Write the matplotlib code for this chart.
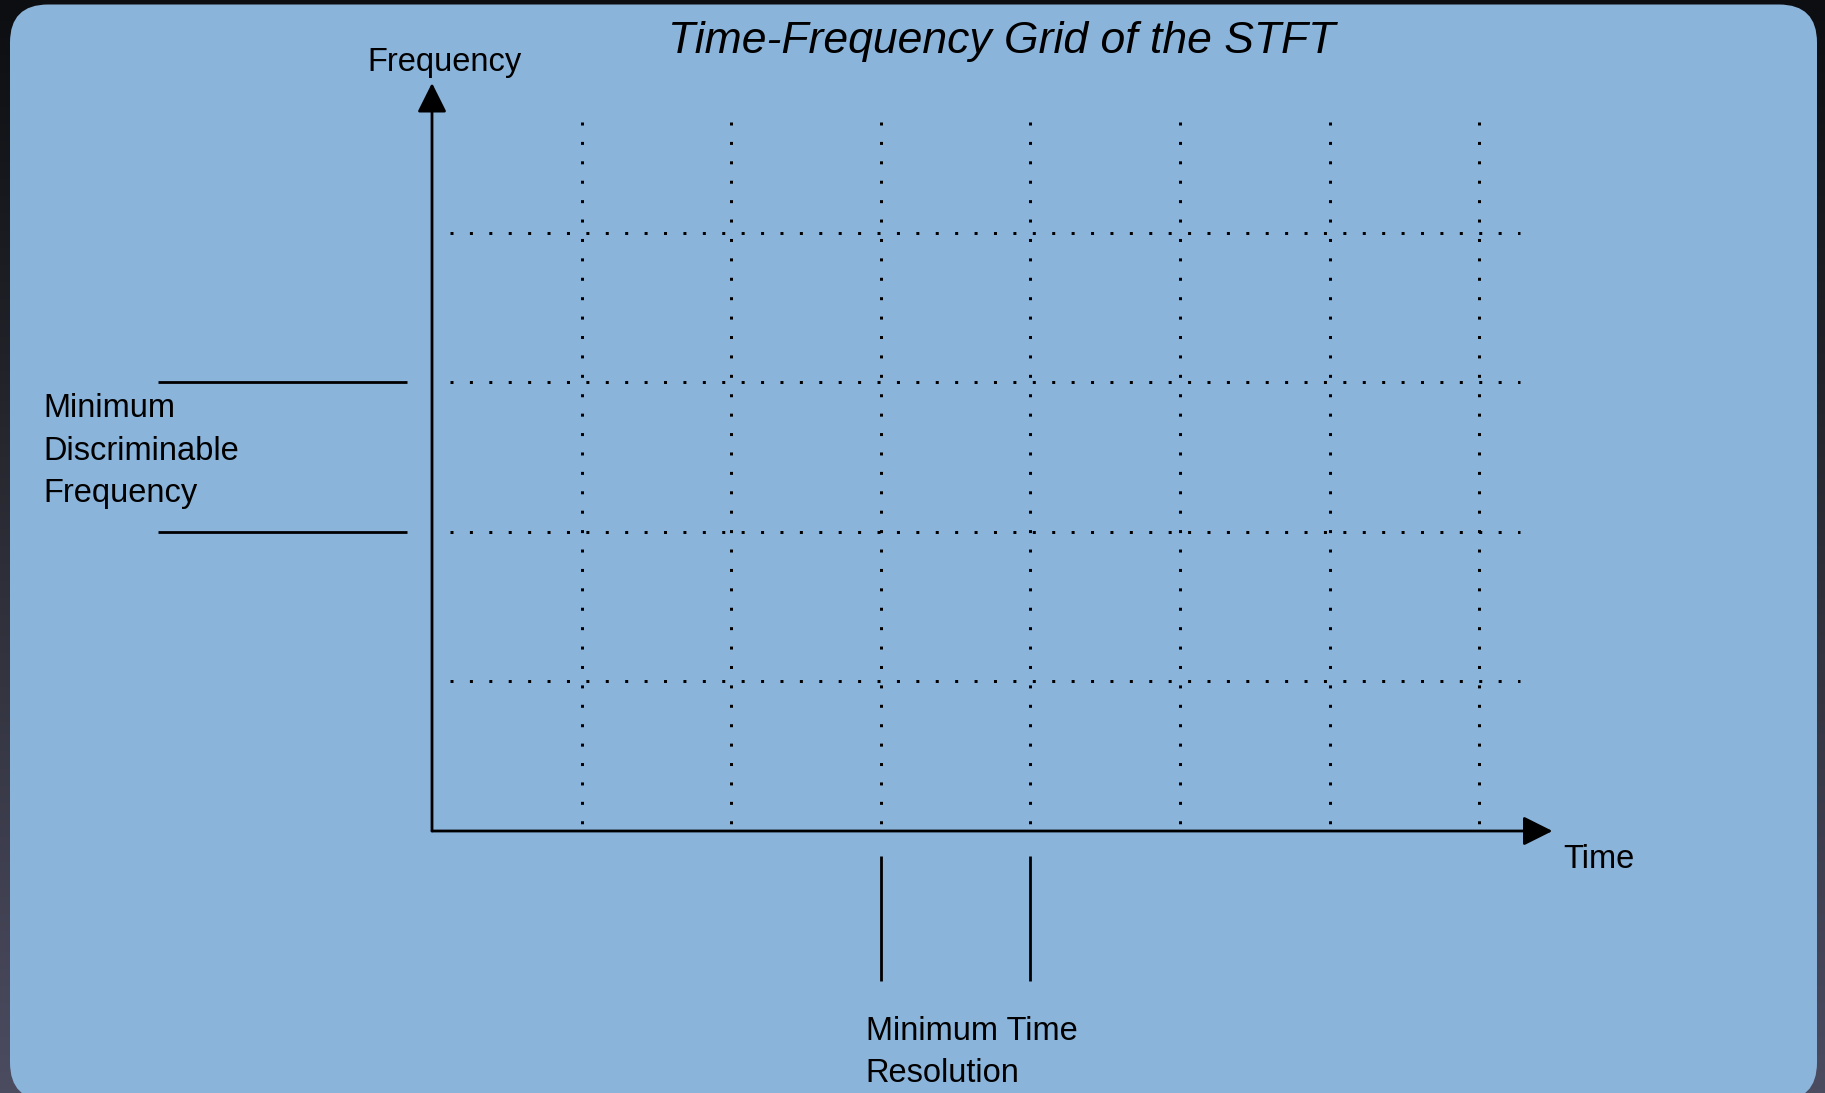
import numpy as np
import matplotlib.pyplot as plt
from matplotlib.patches import FancyBboxPatch
from matplotlib.colors import LinearSegmentedColormap

# grid of the STFT, in cell units
time_lines = [1, 2, 3, 4, 5, 6, 7]
freq_lines = [1, 2, 3, 4]
min_time = [3, 4]       # cell marked as minimum time resolution
min_freq = [2, 3]       # cell marked as minimum discriminable frequency

title = 'Time-Frequency Grid of the STFT'
font = 'Liberation Sans'

W, H = 1825, 1093
fig = plt.figure(figsize=(W / 100, H / 100), dpi=100)

# dark backdrop + rounded blue panel
bg = fig.add_axes([0, 0, 1, 1])
bg.set_xlim(0, W)
bg.set_ylim(H, 0)
bg.axis('off')
cmap = LinearSegmentedColormap.from_list('bg', ['#0d0e11', '#2c2d36', '#4c4c61'])
bg.imshow(np.linspace(0, 1, 256).reshape(-1, 1), cmap=cmap, aspect='auto',
          extent=(0, W, H, 0), zorder=0)
panel = FancyBboxPatch((10, 4.5), 1807, 1096, boxstyle='round,pad=0,rounding_size=38',
                       facecolor='#8bb4db', edgecolor='none', zorder=1)
bg.add_patch(panel)

# drawing axes in cell units, origin at the corner of the grid
cell = 149.6
ox, oy = 432, 831
ax = fig.add_axes([0, 0, 1, 1])
ax.patch.set_alpha(0)
ax.set_xlim(-ox / cell, (W - ox) / cell)
ax.set_ylim(-(H - oy) / cell, oy / cell)
ax.axis('off')

# dotted grid (vertical ones drawn top-down so the dots start at the top)
dots = (0, (1, 5.47))
ax.hlines(freq_lines, 0.12, 7.27, colors='black', linestyles=dots, linewidth=2.16)
ax.vlines(time_lines, 4.74, 0.04, colors='black', linestyles=dots, linewidth=2.16)

# axes arrows
arrow = dict(arrowstyle='-|>,head_length=0.4,head_width=0.2', mutation_scale=45,
             color='black', lw=2.0, shrinkA=0, shrinkB=0)
ax.annotate('', xy=(7.49, 0), xytext=(0, 0), arrowprops=arrow)
ax.annotate('', xy=(0, 5.0), xytext=(0, 0), arrowprops=arrow)

# bracket lines
ax.hlines(min_freq, -1.83, -0.167, colors='black', linewidth=2.0)
ax.vlines(min_time, -0.167, -1.0, colors='black', linewidth=2.0)

fs = 23.5
ax.text(-0.434, 5.08, 'Frequency', fontsize=fs, family=font, va='baseline', ha='left')
ax.text(7.56, -0.247, 'Time', fontsize=fs, family=font, va='baseline', ha='left')
ax.text(-2.60, 2.199, 'Minimum\nDiscriminable\nFrequency', fontsize=fs, family=font,
        va='baseline', ha='left', linespacing=1.47)
ax.text(2.90, -1.678, 'Minimum Time\nResolution', fontsize=fs, family=font,
        va='baseline', ha='left', linespacing=1.47)
ax.text(3.81, 5.20, title, fontsize=32, family=font, style='italic',
        va='baseline', ha='center')

fig.savefig('out.png', dpi=100)
